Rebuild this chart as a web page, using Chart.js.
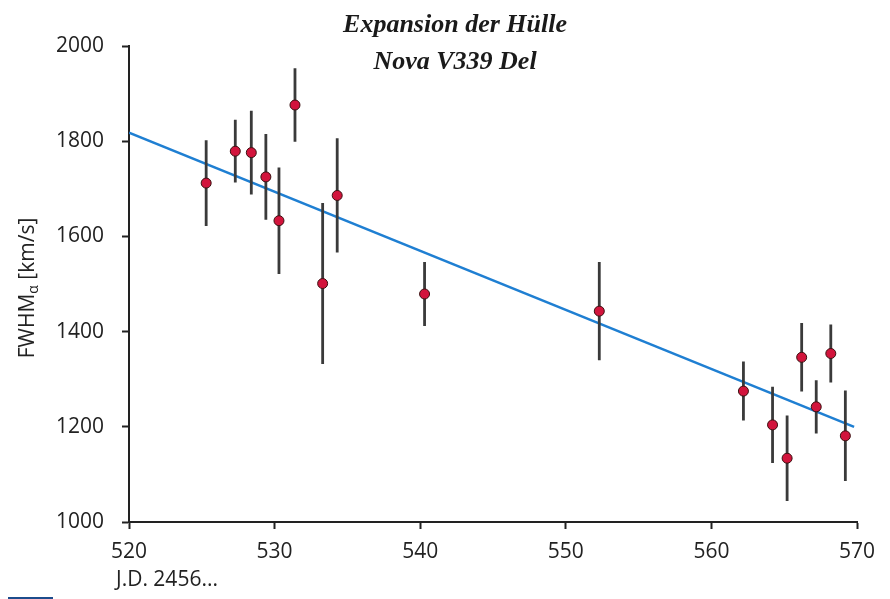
<!DOCTYPE html>
<html lang="de">
<head>
    <meta charset="UTF-8">
    <title>Expansion der Hülle – Nova V339 Del</title>
    <script src="https://cdn.jsdelivr.net/npm/chart.js"></script>
    <style>
        body { margin: 0; background: #fff; }
        #wrap { position: relative; width: 890px; height: 599px; }
        #mark { position: absolute; left: 8px; top: 597px; width: 45px; height: 2px; background: #1c4c8c; }
    </style>
</head>
<body>
<div id="wrap">
    <canvas id="fwhmChart" width="890" height="599"></canvas>
    <div id="mark"></div>
</div>
<script>
    // Julian date (minus 2456000) of each spectrum
    const jd = [525.3, 527.3, 528.4, 529.4, 530.3, 531.4, 533.3, 534.3, 540.3, 552.3,
                562.2, 564.2, 565.2, 566.2, 567.2, 568.2, 569.2];
    // measured FWHM in km/s
    const fwhm = [1712, 1779, 1776, 1725, 1633, 1876, 1501, 1686, 1479, 1443,
                  1275, 1204, 1134, 1346, 1242, 1354, 1181];
    // half length of the error bars
    const err = [90, 66, 88, 90, 112, 77, 169, 120, 67, 103,
                 62, 80, 90, 72, 56, 61, 95];
    // linear fit end points
    const fitX = [520, 569.8];
    const fitY = [1818, 1200];

    const xTicks = [520, 530, 540, 550, 560, 570];
    const yTicks = [1000, 1200, 1400, 1600, 1800, 2000];

    const tickFont = { family: 'Open Sans', size: 21 };

    // each error bar is a two-point segment, separated by a null gap
    const errorSegments = [];
    jd.forEach((x, i) => {
        errorSegments.push({ x: x, y: fwhm[i] - err[i] });
        errorSegments.push({ x: x, y: fwhm[i] + err[i] });
        errorSegments.push({ x: x, y: null });
    });

    const labelsPlugin = {
        id: 'labels',
        afterDraw(chart) {
            const ctx = chart.ctx;
            ctx.save();
            ctx.fillStyle = '#1a1a1a';
            ctx.textAlign = 'center';
            ctx.textBaseline = 'middle';
            ctx.font = 'italic bold 26px "Liberation Serif"';
            ctx.fillText('Expansion der Hülle', 455, 25);
            ctx.fillText('Nova V339 Del', 455, 62);

            // x-axis note under the first tick
            ctx.fillStyle = '#222';
            ctx.font = '21px "Open Sans"';
            ctx.textAlign = 'left';
            ctx.fillText('J.D. 2456...', 116, 580);

            // rotated y-axis title with subscript
            ctx.translate(28, 288);
            ctx.rotate(-Math.PI / 2);
            const main = 'FWHM';
            const sub = 'α';
            const rest = ' [km/s]';
            ctx.font = '21px "Open Sans"';
            const w1 = ctx.measureText(main).width;
            const w3 = ctx.measureText(rest).width;
            ctx.font = '14px "Open Sans"';
            const w2 = ctx.measureText(sub).width;
            const start = -(w1 + w2 + w3) / 2;
            ctx.font = '21px "Open Sans"';
            ctx.fillText(main, start, 0);
            ctx.fillText(rest, start + w1 + w2, 0);
            ctx.font = '14px "Open Sans"';
            ctx.fillText(sub, start + w1, 6);
            ctx.restore();
        }
    };

    new Chart(document.getElementById('fwhmChart'), {
        type: 'scatter',
        data: {
            datasets: [
                {
                    label: 'Fit',
                    type: 'line',
                    data: fitX.map((x, i) => ({ x: x, y: fitY[i] })),
                    borderColor: '#1f7fd2',
                    borderWidth: 2.5,
                    pointRadius: 0,
                    order: 3
                },
                {
                    label: 'Fehler',
                    type: 'line',
                    data: errorSegments,
                    borderColor: '#3a3a3a',
                    borderWidth: 2.8,
                    pointRadius: 0,
                    spanGaps: false,
                    order: 2
                },
                {
                    label: 'FWHM',
                    data: jd.map((x, i) => ({ x: x, y: fwhm[i] })),
                    backgroundColor: '#d2143c',
                    borderColor: '#3a1010',
                    borderWidth: 1,
                    pointRadius: 5,
                    order: 1
                }
            ]
        },
        options: {
            responsive: false,
            animation: false,
            layout: { padding: { top: 46, right: 33, bottom: 0, left: 0 } },
            plugins: {
                legend: { display: false },
                tooltip: { enabled: false }
            },
            scales: {
                x: {
                    type: 'linear',
                    min: 520,
                    max: 570,
                    afterBuildTicks: (scale) => { scale.ticks = xTicks.map(v => ({ value: v })); },
                    afterFit: (scale) => { scale.height = 77; },
                    grid: { drawOnChartArea: false, color: '#222', tickLength: 7, tickWidth: 2 },
                    border: { color: '#222', width: 2 },
                    ticks: { color: '#222', font: tickFont, padding: 10, maxRotation: 0,
                             callback: (v) => String(v) }
                },
                y: {
                    min: 1000,
                    max: 2000,
                    afterBuildTicks: (scale) => { scale.ticks = yTicks.map(v => ({ value: v })); },
                    afterFit: (scale) => { scale.width = 129; },
                    grid: { drawOnChartArea: false, color: '#222', tickLength: 7, tickWidth: 2 },
                    border: { color: '#222', width: 2 },
                    ticks: { color: '#222', font: tickFont, padding: 18,
                             callback: (v) => String(v) }
                }
            }
        },
        plugins: [labelsPlugin]
    });
</script>
</body>
</html>
